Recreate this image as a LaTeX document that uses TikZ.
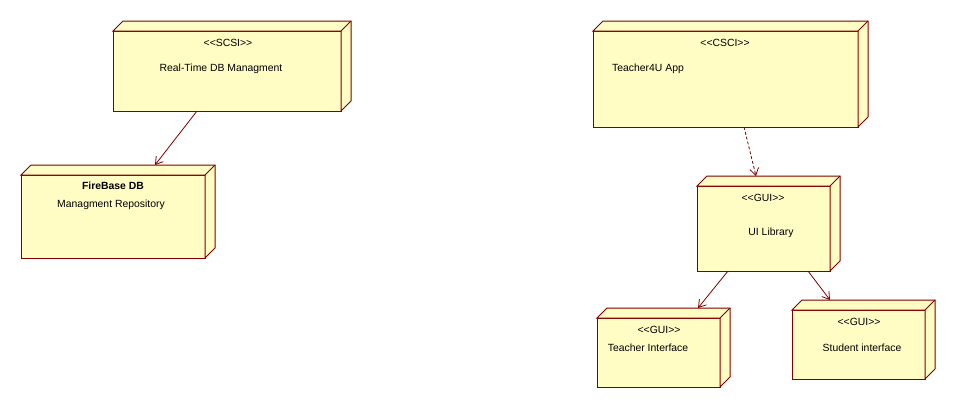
\documentclass[tikz,border=0pt]{standalone}
\usepackage{fontspec}
\setmainfont{Liberation Sans}
\usetikzlibrary{arrows.meta}
\definecolor{boxfill}{RGB}{255,252,196}
\definecolor{boxline}{RGB}{128,0,0}
\newcommand\extrude[1]{%
  \draw[boxedge, fill=boxfill] (#1.north west) -- ([shift={(10,-10)}]#1.north west)
    -- ([shift={(10,-10)}]#1.north east) -- ([shift={(10,-10)}]#1.south east)
    -- (#1.south east) -- (#1.north east) -- cycle;
  \draw[boxedge] (#1.north east) -- ([shift={(10,-10)}]#1.north east);}
\tikzset{
  boxedge/.style={draw=boxline, line width=1pt, line join=miter},
  front/.style={boxedge, fill=boxfill, anchor=north west, inner sep=0pt, outer sep=0pt},
  lbl/.style={anchor=base, inner sep=0pt, font=\fontsize{10.4}{12}\selectfont},
  conn/.style={draw=boxline, line width=0.8pt, -{Straight Barb[length=7pt,width=9pt]}},
}
\begin{document}
\begin{tikzpicture}[x=1pt,y=-1pt]
\fill[white] (0,0) rectangle (956,408);
\useasboundingbox (0,0) rectangle (956,408);
% front faces
\node[front, minimum width=228pt, minimum height=80pt] (scsi) at (113,31) {};
\node[front, minimum width=184pt, minimum height=83pt] (fb) at (21,175) {};
\node[front, minimum width=265pt, minimum height=96pt] (csci) at (593,31) {};
\node[front, minimum width=133pt, minimum height=85pt] (uilib) at (697,186) {};
\node[front, minimum width=123pt, minimum height=69pt] (ti) at (597,318) {};
\node[front, minimum width=133pt, minimum height=69pt] (si) at (792,310) {};
\extrude{scsi}
\extrude{fb}
\extrude{csci}
\extrude{uilib}
\extrude{ti}
\extrude{si}
% labels
\node[lbl] (t1) at (228,46) {<{}<SCSI>{}>};
\node[lbl] (t2) at (221,71) {Real-Time DB Managment};
\node[lbl, font=\fontsize{10.4}{12}\selectfont\bfseries] (t3) at (113,189) {FireBase DB};
\node[lbl] (t4) at (111,207) {Managment Repository};
\node[lbl] (t5) at (725,46) {<{}<CSCI>{}>};
\node[lbl, anchor=base west] (t6) at (612,71) {Teacher4U App};
\node[lbl] (t7) at (763,201) {<{}<GUI>{}>};
\node[lbl] (t8) at (771,235) {UI Library};
\node[lbl] (t9) at (659,333) {<{}<GUI>{}>};
\node[lbl] (t10) at (648,351) {Teacher Interface};
\node[lbl] (t11) at (859,325) {<{}<GUI>{}>};
\node[lbl] (t12) at (862,351) {Student interface};
% connectors
\draw[conn] ([xshift=84pt]scsi.south west) -- ([shift={(134,-10)}]fb.north west);
\draw[conn, dash pattern=on 3pt off 2pt] ([xshift=151pt]csci.south west) -- ([shift={(59,-10)}]uilib.north west);
\draw[conn] ([xshift=31pt]uilib.south west) -- ([shift={(101,-10)}]ti.north west);
\draw[conn] ([xshift=111pt]uilib.south west) -- ([shift={(38,-10)}]si.north west);
\end{tikzpicture}
\end{document}
